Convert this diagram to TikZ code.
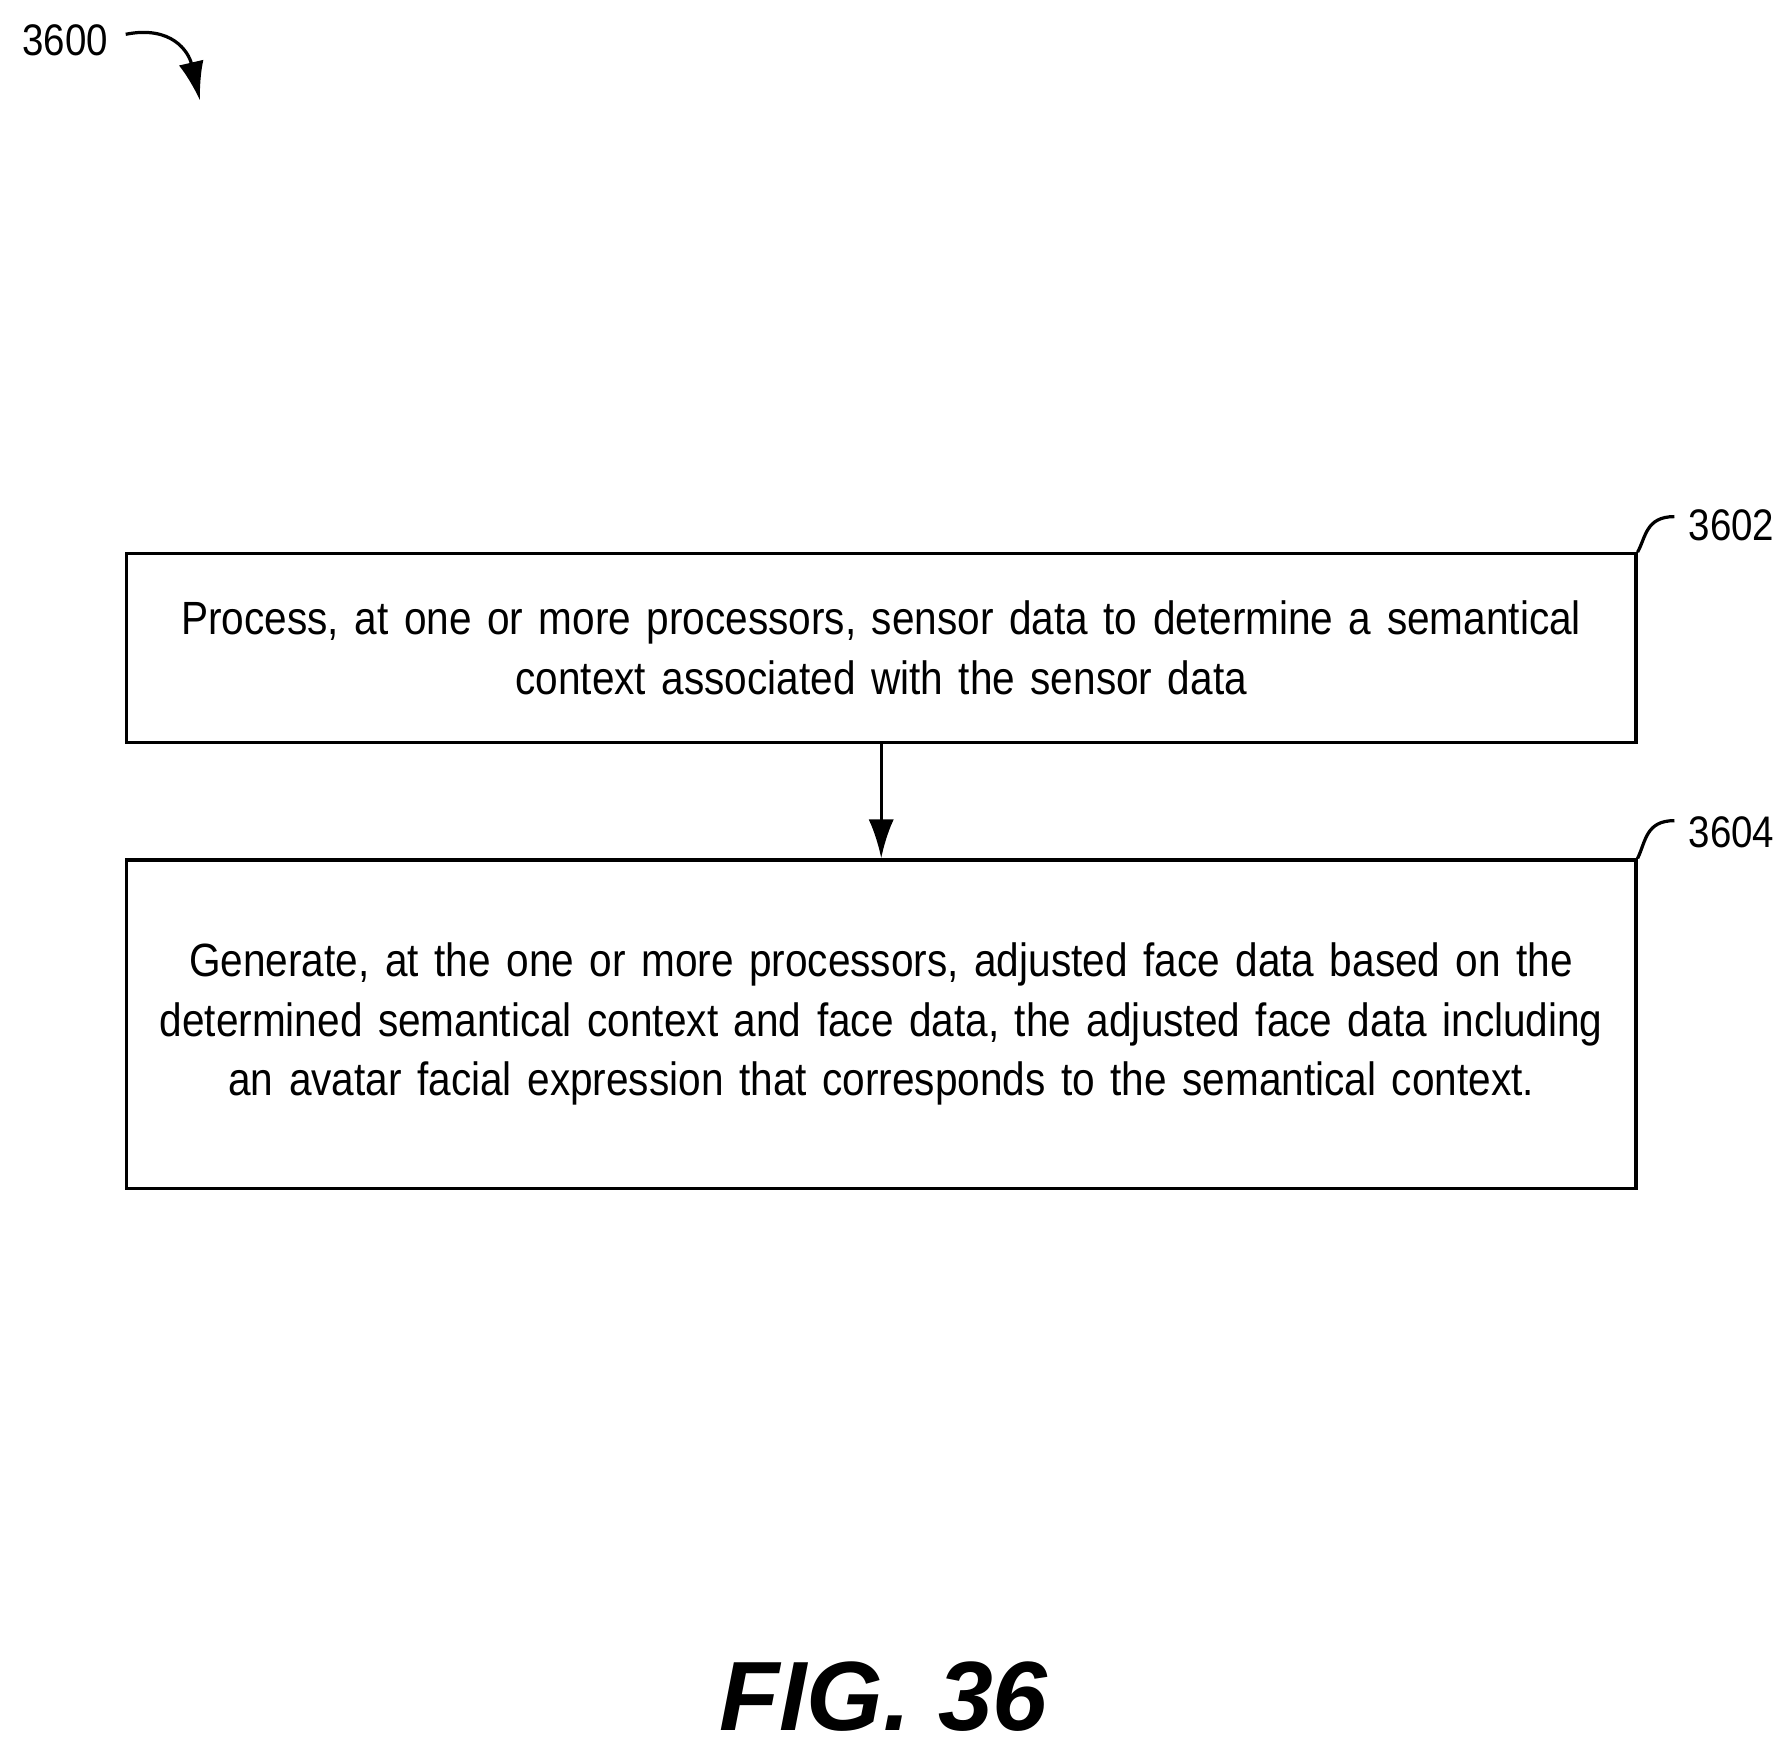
\documentclass[tikz,border=0pt]{standalone}
\usepackage{fontspec}
\setmainfont{Liberation Sans}
\newfontfamily\narrowsans[FakeStretch=0.87]{Liberation Sans}
\usetikzlibrary{positioning, arrows.meta}
\begin{document}
\begin{tikzpicture}[>={Latex[length=3.4mm, width=2.2mm]}, x=0.01cm, y=-0.01cm,
    flowbox/.style={draw, thick, minimum width=13.2cm, text width=12.8cm, inner sep=0pt, align=center, font=\narrowsans\fontsize{11.6}{14.8}\selectfont},
    ref/.style={font=\narrowsans\fontsize{11}{12}\selectfont, inner sep=0pt}]
    \useasboundingbox (0,0) rectangle (1560,1528);
    % =========================
    \node[ref] (n3600) at (57,35) {3600};
    \coordinate (a3600) at (175,88);
    \draw[thick, ->] (110,30) .. controls (150,22) and (165,45) .. (a3600);
    % ===============================
    \node[flowbox, minimum height=1.65cm] (s3602) at (771,567) {Process, at one or more processors, sensor data to determine a semantical\\context associated with the sensor data};
    \node[flowbox, minimum height=2.87cm, below=1cm of s3602] (s3604) {Generate, at the one or more processors, adjusted face data based on the\\determined semantical context and face data, the adjusted face data including\\an avatar facial expression that corresponds to the semantical context.};
    \draw[thick, ->] (s3602) -- (s3604);
    % ===============================
    \node[ref] (n3602) at (1515,460) {3602};
    \node[ref] (n3604) at (1515,728) {3604};
    \draw[thick] (s3602.north east) .. controls (1440,470) and (1440,452) .. (1465,452);
    \draw[thick] (s3604.north east) .. controls (1440,736) and (1440,718) .. (1465,718);
    % ===============================
    \node[font=\fontsize{24.5}{28}\selectfont\bfseries\itshape] (fig) at (773,1484) {FIG. 36};
\end{tikzpicture}
\end{document}
